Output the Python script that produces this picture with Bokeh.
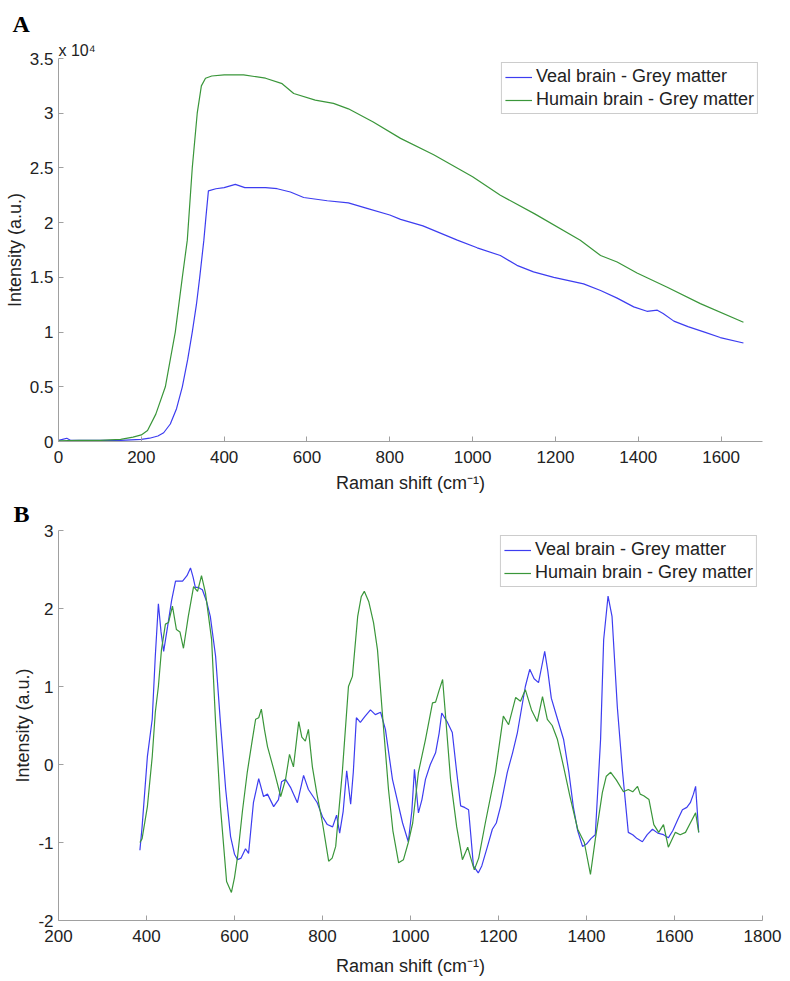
from bokeh.plotting import figure
from bokeh.models import Range1d, FixedTicker, Legend, LegendItem, Title
from bokeh.layouts import column
from bokeh.embed import file_html
from bokeh.resources import INLINE

# ---------------- Panel A data (intensity in units of 1e4) ----------------
a_veal_x = [0, 10, 20, 30, 50, 100, 150, 200, 220, 240, 254, 270, 285, 299, 312, 323, 333, 341, 351, 356, 362,
            380, 400, 427, 450, 500, 528, 560, 592, 649, 700, 745, 800, 826, 880, 963, 1011, 1067, 1107, 1147,
            1196, 1268, 1309, 1349, 1389, 1421, 1446, 1460, 1486, 1520, 1560, 1598, 1654]
a_veal_y = [0.01, 0.02, 0.03, 0.01, 0.01, 0.01, 0.01, 0.02, 0.03, 0.05, 0.08, 0.16, 0.3, 0.5, 0.75, 1.0, 1.25,
            1.5, 1.84, 2.05, 2.29, 2.31, 2.32, 2.35, 2.32, 2.32, 2.31, 2.28, 2.23, 2.2, 2.18, 2.13, 2.07, 2.03,
            1.97, 1.84, 1.77, 1.70, 1.61, 1.55, 1.50, 1.44, 1.38, 1.31, 1.23, 1.19, 1.2, 1.17, 1.1, 1.05, 1.0,
            0.95, 0.9]
a_human_x = [0, 50, 100, 150, 180, 200, 215, 235, 258, 270, 282, 299, 311, 323, 335, 345, 355, 370, 400, 447,
             500, 540, 568, 620, 664, 700, 760, 826, 906, 1000, 1067, 1150, 1260, 1309, 1349, 1397, 1470, 1550,
             1654]
a_human_y = [0.005, 0.01, 0.01, 0.02, 0.04, 0.06, 0.1, 0.25, 0.5, 0.75, 1.0, 1.5, 1.84, 2.5, 3.0, 3.25, 3.32,
             3.34, 3.35, 3.35, 3.32, 3.27, 3.18, 3.12, 3.09, 3.04, 2.92, 2.77, 2.62, 2.42, 2.25, 2.08, 1.84,
             1.70, 1.64, 1.54, 1.41, 1.26, 1.09]

a_xticks = [0, 200, 400, 600, 800, 1000, 1200, 1400, 1600]
a_yticks = [0, 0.5, 1, 1.5, 2, 2.5, 3, 3.5]

# ---------------- Panel B data ----------------
b_veal_x = [385, 390, 402, 413, 420, 427, 433, 439, 448, 457, 466, 482, 492, 500, 506, 511, 518, 527, 536, 545,
            557, 568, 580, 591, 600, 607, 615, 625, 632, 643, 655, 666, 675, 689, 700, 707, 716, 728, 743, 757,
            768, 788, 800, 811, 823, 832, 839, 847, 855, 864, 870, 877, 886, 897, 909, 920, 932, 943, 959, 982,
            995, 1003, 1009, 1018, 1026, 1034, 1045, 1057, 1065, 1071, 1083, 1095, 1105, 1114, 1123, 1132, 1137,
            1143, 1154, 1162, 1175, 1186, 1195, 1205, 1220, 1232, 1243, 1261, 1271, 1281, 1291, 1298, 1305, 1312,
            1320, 1330, 1348, 1360, 1370, 1380, 1391, 1400, 1410, 1420, 1432, 1439, 1449, 1458, 1470, 1482, 1495,
            1505, 1515, 1527, 1538, 1550, 1562, 1575, 1586, 1596, 1608, 1618, 1628, 1636, 1643, 1648, 1655]
b_veal_y = [-1.1, -0.8, 0.1, 0.58, 1.39, 2.06, 1.7, 1.45, 1.77, 2.1, 2.35, 2.35, 2.42, 2.52, 2.4, 2.27, 2.27,
            2.24, 2.1, 1.9, 1.39, 0.54, -0.32, -0.92, -1.15, -1.22, -1.2, -1.08, -1.14, -0.49, -0.18, -0.41,
            -0.38, -0.54, -0.45, -0.22, -0.19, -0.3, -0.49, -0.14, -0.32, -0.49, -0.67, -0.77, -0.8, -0.65,
            -0.88, -0.6, -0.08, -0.51, -0.1, 0.6, 0.54, 0.62, 0.7, 0.64, 0.67, 0.45, -0.19, -0.75, -0.99, -0.6,
            -0.06, -0.62, -0.45, -0.19, 0.0, 0.15, 0.4, 0.66, 0.55, 0.41, -0.1, -0.53, -0.55, -0.58, -0.9, -1.3,
            -1.39, -1.3, -1.05, -0.83, -0.75, -0.53, -0.1, 0.15, 0.41, 1.0, 1.22, 1.1, 1.05, 1.25, 1.45, 1.2,
            0.85, 0.66, 0.32, -0.1, -0.54, -0.85, -1.05, -1.02, -0.95, -0.9, 0.32, 1.6, 2.16, 1.9, 0.74, -0.1,
            -0.87, -0.9, -0.95, -0.99, -0.9, -0.83, -0.88, -0.9, -0.94, -0.85, -0.7, -0.58, -0.55, -0.49, -0.38,
            -0.28, -0.87]
b_human_x = [385, 390, 402, 413, 420, 427, 434, 443, 450, 459, 468, 476, 484, 495, 507, 516, 525, 534, 548, 557,
             568, 582, 593, 600, 607, 618, 629, 640, 648, 655, 661, 668, 675, 689, 705, 716, 725, 734, 746, 753,
             761, 768, 777, 788, 800, 814, 822, 830, 845, 859, 868, 880, 888, 895, 905, 916, 925, 936, 950, 960,
             973, 984, 995, 1005, 1018, 1034, 1050, 1057, 1065, 1073, 1080, 1091, 1105, 1118, 1130, 1137, 1145,
             1155, 1170, 1193, 1211, 1223, 1239, 1250, 1261, 1275, 1288, 1300, 1311, 1322, 1334, 1348, 1362, 1380,
             1395, 1409, 1420, 1436, 1445, 1455, 1468, 1484, 1495, 1505, 1516, 1522, 1530, 1542, 1553, 1564, 1575,
             1586, 1602, 1613, 1625, 1636, 1648, 1655]
b_human_y = [-1.0, -0.95, -0.54, 0.1, 0.67, 1.0, 1.47, 1.8, 1.82, 2.03, 1.73, 1.7, 1.49, 1.9, 2.28, 2.22, 2.42,
             2.2, 1.6, 0.54, -0.54, -1.5, -1.64, -1.45, -1.18, -0.6, -0.1, 0.3, 0.58, 0.6, 0.71, 0.45, 0.23,
             -0.06, -0.41, -0.19, 0.13, -0.03, 0.55, 0.35, 0.3, 0.45, -0.03, -0.4, -0.75, -1.24, -1.2, -1.05,
             -0.1, 1.0, 1.13, 1.9, 2.15, 2.22, 2.09, 1.82, 1.47, 0.66, -0.32, -0.85, -1.26, -1.22, -1.0, -0.75,
             -0.1, 0.32, 0.79, 0.8, 0.95, 1.09, 0.6, -0.19, -0.8, -1.22, -1.06, -1.2, -1.35, -1.2, -0.75, -0.1,
             0.62, 0.51, 0.86, 0.81, 0.96, 0.7, 0.55, 0.87, 0.58, 0.5, 0.32, -0.03, -0.4, -0.83, -1.0, -1.41,
             -0.96, -0.36, -0.15, -0.1, -0.2, -0.35, -0.32, -0.35, -0.28, -0.38, -0.4, -0.45, -0.77, -0.87, -0.77,
             -1.06, -0.87, -0.9, -0.87, -0.75, -0.62, -0.87]

b_xticks = [200, 400, 600, 800, 1000, 1200, 1400, 1600, 1800]
b_yticks = [-2, -1, 0, 1, 2, 3]

series_names = ["Veal brain - Grey matter", "Humain brain - Grey matter"]
xlabel = "Raman shift (cm\u207b\u00b9)"
ylabel = "Intensity (a.u.)"
panel_labels = ["A", "B"]
multiplier = "x 10\u2074"

BLUE = "#3d3df0"
GREEN = "#3a963a"
AXIS = "#a0a0a0"
TXT = "#222222"
FONT = "Liberation Sans"


def style(p, xticks, yticks, xlabel_standoff):
    p.grid.visible = False
    p.outline_line_color = None
    p.background_fill_color = "white"
    p.border_fill_color = "white"
    for ax in (p.xaxis[0], p.yaxis[0]):
        ax.axis_line_color = AXIS
        ax.major_tick_line_color = AXIS
        ax.major_tick_in = 5
        ax.major_tick_out = 0
        ax.minor_tick_line_color = None
        ax.major_label_text_font = FONT
        ax.major_label_text_font_size = "17px"
        ax.major_label_text_color = TXT
        ax.axis_label_text_font = FONT
        ax.axis_label_text_font_size = "18px"
        ax.axis_label_text_font_style = "normal"
        ax.axis_label_text_color = TXT
    p.xaxis.ticker = FixedTicker(ticks=xticks)
    p.yaxis.ticker = FixedTicker(ticks=yticks)
    p.xaxis.major_label_standoff = 9
    p.yaxis.major_label_standoff = 5
    p.xaxis.axis_label_standoff = xlabel_standoff
    p.yaxis.axis_label_standoff = 2
    p.xaxis.axis_label = xlabel
    p.yaxis.axis_label = ylabel


def add_legend(p, r1, r2, margin):
    leg = Legend(items=[LegendItem(label=series_names[0], renderers=[r1]),
                        LegendItem(label=series_names[1], renderers=[r2])],
                 location="top_right")
    leg.label_text_font = FONT
    leg.label_text_font_size = "18px"
    leg.label_text_color = TXT
    leg.glyph_width = 27
    leg.glyph_height = 18
    leg.label_height = 18
    leg.label_standoff = 4
    leg.spacing = 2
    leg.padding = 3
    leg.margin = margin
    leg.border_line_color = "#999999"
    leg.border_line_width = 1
    leg.background_fill_alpha = 1
    p.add_layout(leg)


# ---------------- Figure A ----------------
pa = figure(frame_width=704, frame_height=383, output_backend="svg", toolbar_location=None,
            x_range=Range1d(0, 1700), y_range=Range1d(0, 3.5),
            min_border_left=58, min_border_top=58, min_border_right=20, min_border_bottom=10)
style(pa, a_xticks, a_yticks, 7)
pa.yaxis.major_label_overrides = {0: "0", 1: "1", 2: "2", 3: "3"}
ra1 = pa.line(a_veal_x, a_veal_y, line_color=BLUE, line_width=1.2)
ra2 = pa.line(a_human_x, a_human_y, line_color=GREEN, line_width=1.2)
add_legend(pa, ra1, ra2, 4)
pa.add_layout(Title(text=multiplier, align="left", offset=0, standoff=0, text_font=FONT,
                    text_font_size="16px", text_font_style="normal", text_color=TXT), "above")
pa.add_layout(Title(text=panel_labels[0], align="left", offset=-46, standoff=6, text_font="Liberation Serif",
                    text_font_size="24px", text_font_style="bold", text_color="black"), "above")

# ---------------- Figure B ----------------
pb = figure(frame_width=704, frame_height=390, output_backend="svg", toolbar_location=None,
            x_range=Range1d(200, 1800), y_range=Range1d(-2, 3),
            min_border_left=58, min_border_top=35, min_border_right=20, min_border_bottom=10)
style(pb, b_xticks, b_yticks, 11)
pb.yaxis.major_label_overrides = {-2: "-2", -1: "-1"}
rb1 = pb.line(b_veal_x, b_veal_y, line_color=BLUE, line_width=1.2)
rb2 = pb.line(b_human_x, b_human_y, line_color=GREEN, line_width=1.2)
add_legend(pb, rb1, rb2, 5)
pb.add_layout(Title(text=panel_labels[1], align="left", offset=-45, standoff=7,
                    text_font="Liberation Serif", text_font_size="24px", text_font_style="bold",
                    text_color="black"), "above")

layout = column(pa, pb, spacing=0)
open("out.html", "w").write(file_html(layout, INLINE))
